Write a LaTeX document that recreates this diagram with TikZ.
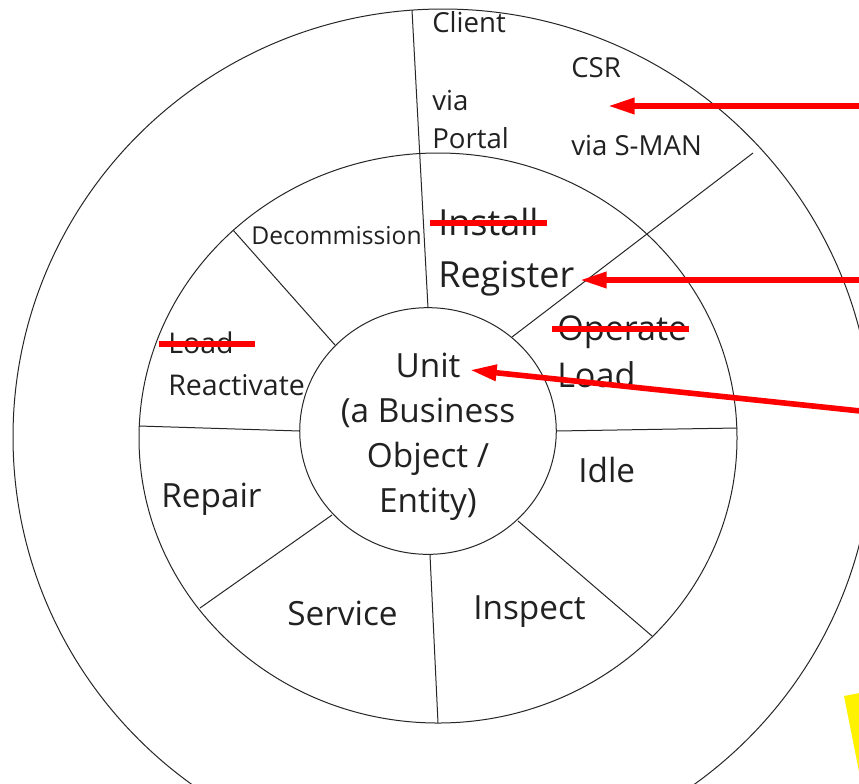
\documentclass[tikz,border=0pt]{standalone}
\usepackage{fontspec}
\setmainfont{Open Sans}
\usetikzlibrary{arrows.meta}
\begin{document}
\begin{tikzpicture}[x=0.75pt,y=-0.75pt,
  ring/.style={draw=black!85, line width=0.75pt},
  lbl/.style={anchor=base west, inner sep=0pt, text=black!87},
  clbl/.style={anchor=base, inner sep=0pt, text=black!87},
  strike/.style={draw=red, line width=4.5pt},
  redarrow/.style={draw=red, line width=4.2pt, -{Triangle[length=20pt,width=11.5pt]}},
  fsmall/.style={font=\fontsize{20.7}{24}\selectfont},
  fdec/.style={font=\fontsize{18.5}{22}\selectfont},
  fleft/.style={font=\fontsize{21.4}{25}\selectfont},
  fbig/.style={font=\fontsize{27}{31}\selectfont},
  fright/.style={font=\fontsize{25.6}{30}\selectfont},
  fmain/.style={font=\fontsize{25}{29}\selectfont},
]
\useasboundingbox (0,0) rectangle (859,783);
\clip (0,0) rectangle (859,783);
\fill[white] (0,0) rectangle (859,783);

% rings
\draw[ring] (443,437) ellipse [x radius=322.5pt, y radius=321pt];
\draw[ring] (438,438) ellipse [x radius=224.25pt, y radius=213.75pt];
\draw[ring] (428,431) ellipse [x radius=96.2pt, y radius=92.5pt];

% spokes
\draw[ring] (428,308) -- (412,10);
\draw[ring] (512,337) -- (753,153);
\draw[ring] (556,431) -- (737,428);
\draw[ring] (518,521) -- (652,636);
\draw[ring] (430,555) -- (438,723);
\draw[ring] (332,515) -- (200,608);
\draw[ring] (300,431) -- (139,426);
\draw[ring] (335,345) -- (233,230);

% outer ring texts
\node[lbl, fsmall] (client) at (432,32) {Client};
\node[lbl, fsmall] (via) at (432,110) {via};
\node[lbl, fsmall] (portal) at (432,148) {Portal};
\node[lbl, fsmall] (csr) at (571,77) {CSR};
\node[lbl, fsmall] (viasman) at (571,155) {via S-MAN};

% middle ring texts
\node[lbl, fdec] (decom) at (251,244) {Decommission};
\node[lbl, fbig] (install) at (438,235) {Install};
\node[lbl, fbig] (register) at (438,287) {Register};
\node[lbl, fleft] (loadl) at (168,353) {Load};
\node[lbl, fleft] (react) at (168,395) {Reactivate};
\node[lbl, fright] (operate) at (557,340) {Operate};
\node[lbl, fright] (loadr) at (557,387) {Load};
\node[lbl, fmain] (idle) at (578,482) {Idle};
\node[lbl, fmain] (repair) at (161,507) {Repair};
\node[lbl, fmain] (service) at (287,625) {Service};
\node[lbl, fmain] (inspect) at (473,619) {Inspect};

% center texts
\node[clbl, fmain] (unit) at (428,377) {Unit};
\node[clbl, fmain] (abus) at (428,422) {(a Business};
\node[clbl, fmain] (obj) at (428,467) {Object /};
\node[clbl, fmain] (ent) at (428,512) {Entity)};

% strike-throughs
\draw[strike] (430,222.5) -- (547,222.5);
\draw[strike] (159,344) -- (255,344);
\draw[strike] (552,328.5) -- (689,328.5);

% red arrows
\coordinate (a1s) at (870,106);
\coordinate (a1e) at (608,106);
\coordinate (a2s) at (870,280);
\coordinate (a2e) at (580,280);
\coordinate (a3s) at (870,412);
\coordinate (a3e) at (470,370);
\draw[redarrow] (a1s) -- (a1e);
\draw[redarrow] (a2s) -- (a2e);
\draw[redarrow] (a3s) -- (a3e);

% yellow shape
\fill[yellow] (844,696) -- (870,691) -- (870,827) -- cycle;
\end{tikzpicture}
\end{document}
